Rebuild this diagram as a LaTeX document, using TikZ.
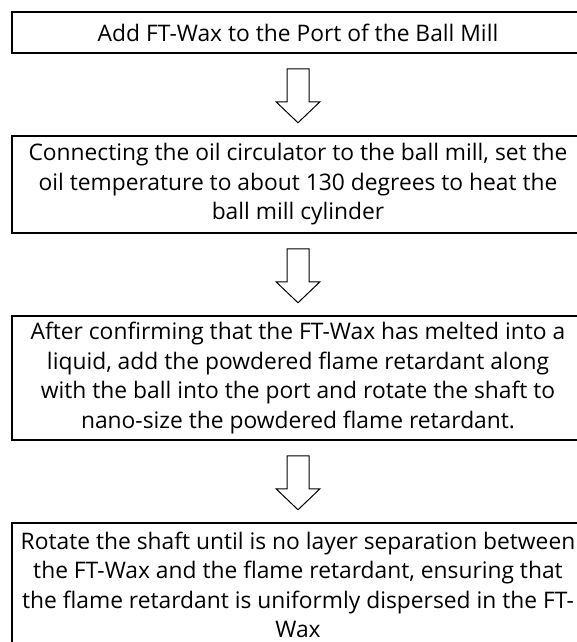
\documentclass[tikz,border=0pt]{standalone}
\usepackage{fontspec}
\setmainfont{Open Sans}
\usetikzlibrary{calc}
\tikzset{
  stepbox/.style={draw=black, line width=1.5pt, minimum width=572pt, inner sep=0pt,
    align=center, font=\fontsize{22.8pt}{29.5pt}\selectfont, text=black},
  downarrow/.style={draw=black, line width=1pt, fill=white, line join=miter}
}
\newcommand{\hollowarrow}[1]{%
  \draw[downarrow] ($(#1)+(-11pt,-15pt)$) -- ++(22pt,0) -- ++(0,-33pt) -- ++(11pt,0)
    -- ++(-22pt,-21pt) -- ++(-22pt,21pt) -- ++(11pt,0) -- cycle;}
\begin{document}
\begin{tikzpicture}[x=1pt,y=1pt]
\useasboundingbox (0,0) rectangle (577,-642);
\node[stepbox, minimum height=41pt] (b1) at (298,-32.5) {Add FT-Wax to the Port of the Ball Mill};
\node[stepbox, minimum height=97pt] (b2) at (298,-184.5) {Connecting the oil circulator to the ball mill, set the\\oil temperature to about 130 degrees to heat the\\ball mill cylinder};
\node[stepbox, minimum height=124pt] (b3) at (298,-378) {After confirming that the FT-Wax has melted into a\\liquid, add the powdered flame retardant along\\with the ball into the port and rotate the shaft to\\nano-size the powdered flame retardant.};
\node[stepbox, minimum height=124pt] (b4) at (298,-585) {Rotate the shaft until is no layer separation between\\the FT-Wax and the flame retardant, ensuring that\\the flame retardant is uniformly dispersed in the FT-\\Wax};
\hollowarrow{b1.south}
\hollowarrow{b2.south}
\hollowarrow{b3.south}
\end{tikzpicture}
\end{document}
